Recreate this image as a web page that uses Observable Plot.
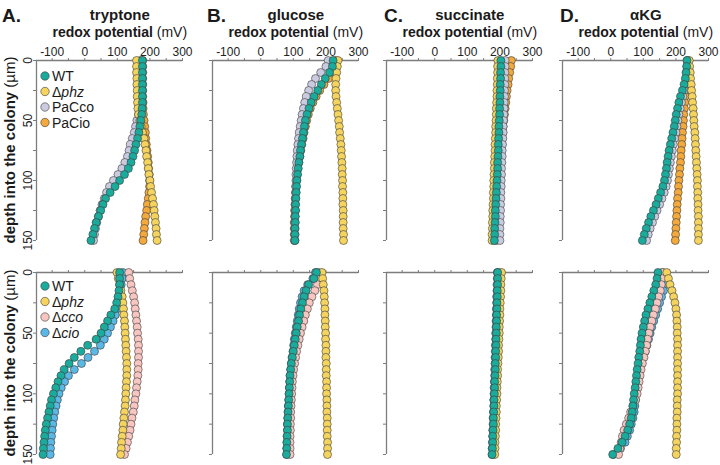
<!DOCTYPE html>
<html><head><meta charset="utf-8">
<script src="https://cdn.jsdelivr.net/npm/d3@7"></script>
<script src="https://cdn.jsdelivr.net/npm/@observablehq/plot@0.6"></script>
<style>
body{margin:0;background:#fff;font-family:"Liberation Sans",Arial,Helvetica,sans-serif;}
#wrap{position:relative;width:720px;height:465px;overflow:hidden;background:#fff;}
.pn{position:absolute;}
#ov{position:absolute;left:0;top:0;pointer-events:none;}
</style></head><body><div id="wrap"></div>
<script>
// ---- data ----
const depths = [0,5,10,15,20,25,30,35,40,45,50,55,60,65,70,75,80,85,90,95,100,105,110,115,120,125,130,135,140,145,150];
const media = ["tryptone","glucose","succinate","αKG"];
const panelLetters = ["A.","B.","C.","D."];
const strainsTop = ["WT","Δphz","PaCco","PaCio"];
const strainsBottom = ["WT","Δphz","Δcco","Δcio"];
const xTicks = [-100,-50,0,50,100,150,200,250,300];
const yTicks = [0,25,50,75,100,125,150];

// top row (WT, Δphz, PaCco, PaCio)
const tryptoneTopWT    = [177,177,177,177,177,177,177,177,176,175,172,169,166,162,157,153,148,142,134,122,107,93,78,64,56,49,42,35,30,25,19];
const tryptoneTopPhz   = [159,159,159,160,160,161,161,162,163,165,169,173,177,182,185,188,190,193,195,197,200,202,205,208,211,213,215,217,219,220,222];
const tryptoneTopPaCco = [170,170,171,171,171,171,170,170,168,165,160,156,152,146,140,136,131,123,114,102,88,76,67,60,53,47,42,37,33,30,27];
const tryptoneTopPaCio = [178,178,178,178,178,178,178,179,179,180,182,184,186,187,189,191,193,195,196,198,199,199,197,195,192,190,187,185,183,181,179];

const glucoseTopWT    = [222,220,211,198,186,175,164,155,148,142,137,134,131,128,125,122,120,117,115,113,111,110,109,108,107,107,106,106,105,105,105];
const glucoseTopPhz   = [237,235,233,231,230,230,231,233,235,237,239,241,242,244,246,247,248,249,250,250,251,251,252,252,252,253,253,253,253,254,254];
const glucoseTopPaCco = [207,200,184,168,156,147,140,135,131,127,124,121,118,116,114,112,111,110,109,108,108,107,107,106,106,106,105,105,105,105,105];
const glucoseTopPaCio = [230,228,222,208,194,181,170,160,152,146,141,137,133,130,126,123,120,117,114,112,110,108,107,106,105,104,104,103,103,103,103];

const succinateTopWT    = [203,203,202,202,201,201,200,200,199,199,198,197,197,196,195,195,194,193,193,192,191,190,189,188,187,186,186,185,184,184,183];
const succinateTopPhz   = [194,193,193,192,192,191,191,190,189,189,188,187,187,186,185,185,184,183,183,182,181,181,180,180,179,178,178,177,177,176,176];
const succinateTopPaCco = [216,216,215,215,215,214,214,213,213,212,211,210,210,209,208,207,207,206,205,205,204,204,203,203,202,202,201,201,200,200,200];
const succinateTopPaCio = [235,233,230,227,225,222,220,218,216,214,212,210,209,207,206,204,203,202,200,199,198,197,196,195,194,193,192,191,190,190,189];

const akgTopWT    = [234,233,231,229,225,220,214,209,205,201,198,195,191,187,183,179,176,173,171,168,165,160,153,146,139,131,123,116,109,103,97];
const akgTopPhz   = [241,242,244,245,247,248,250,251,253,254,255,256,258,259,260,261,262,263,264,265,266,266,267,267,268,268,269,269,269,269,269];
const akgTopPaCco = [236,235,234,232,229,225,221,217,213,209,206,203,200,196,192,189,186,183,180,177,174,170,164,157,150,142,135,128,121,115,110];
const akgTopPaCio = [235,234,233,232,231,230,228,227,226,224,223,222,220,219,218,216,215,214,212,211,209,208,207,205,204,203,202,201,200,199,198];

// bottom row (WT, Δphz, Δcco, Δcio)
const tryptoneBotWT  = [107,107,107,105,102,98,92,80,70,60,50,35,9,-12,-32,-48,-63,-73,-82,-89,-96,-102,-106,-110,-114,-118,-121,-123,-125,-127,-128];
const tryptoneBotPhz = [99,103,107,111,115,117,119,120,122,123,124,125,126,127,128,129,129,129,128,127,126,125,124,122,120,118,117,115,113,112,110];
const tryptoneBotCco = [135,138,142,146,150,153,155,157,159,161,162,164,165,165,165,164,164,163,161,159,157,154,152,149,145,142,139,135,131,127,122];
const tryptoneBotCio = [117,115,112,109,105,102,99,94,87,79,70,60,48,30,10,-10,-32,-50,-62,-72,-79,-84,-88,-92,-95,-98,-100,-102,-104,-105,-106];

const glucoseBotWT  = [171,163,147,139,133,128,123,119,116,112,109,106,103,100,97,94,92,90,89,88,87,86,85,84,83,82,82,81,80,80,79];
const glucoseBotPhz = [188,190,192,194,195,196,197,197,198,198,199,199,200,200,200,201,201,201,202,202,202,203,203,203,204,204,204,204,205,205,205];
const glucoseBotCco = [178,176,174,166,157,149,143,137,132,127,122,118,114,110,107,104,101,99,97,96,95,94,93,92,92,91,91,90,90,90,90];
const glucoseBotCio = [168,160,144,133,127,122,118,115,112,109,106,103,101,99,96,94,92,90,89,88,87,86,85,84,83,82,82,81,81,80,80];

const succinateBotWT  = [193,193,193,192,192,191,191,190,190,189,189,188,188,187,187,186,186,185,184,184,183,182,182,181,180,180,179,178,178,177,176];
const succinateBotPhz = [205,204,203,203,202,201,200,200,199,198,198,197,196,196,195,194,193,193,192,191,191,190,189,189,188,187,187,186,185,185,184];
const succinateBotCco = [196,196,195,195,194,194,193,193,192,192,191,190,190,189,189,188,188,187,186,186,185,185,184,183,183,182,182,181,180,180,179];
const succinateBotCio = [192,192,191,191,190,190,189,189,188,188,187,187,186,186,185,185,184,184,183,182,182,181,181,180,179,179,178,178,177,176,176];

const akgBotWT  = [145,142,138,132,126,120,114,108,104,100,96,93,91,89,86,84,81,79,77,75,72,70,68,66,63,58,52,44,35,22,6];
const akgBotPhz = [172,177,182,188,193,197,200,202,203,204,204,205,205,205,205,205,205,205,205,205,205,204,204,204,203,203,203,202,202,201,201];
const akgBotCco = [158,157,155,152,147,142,137,131,126,121,117,113,110,106,102,97,93,90,87,84,81,76,68,61,55,48,41,36,32,28,24];
const akgBotCio = [160,168,168,162,156,150,144,138,132,126,121,116,111,106,100,95,90,87,84,81,78,76,74,72,68,63,58,51,44,30,8];

const colorOf = {"WT":"#1aab9c","Δphz":"#f4d35e","PaCco":"#cacbe0","PaCio":"#f3a93b","Δcco":"#f8c6c1","Δcio":"#5bb7e3"};

const panelSeries = [
  [[tryptoneTopWT,tryptoneTopPhz,tryptoneTopPaCco,tryptoneTopPaCio],
   [glucoseTopWT,glucoseTopPhz,glucoseTopPaCco,glucoseTopPaCio],
   [succinateTopWT,succinateTopPhz,succinateTopPaCco,succinateTopPaCio],
   [akgTopWT,akgTopPhz,akgTopPaCco,akgTopPaCio]],
  [[tryptoneBotWT,tryptoneBotPhz,tryptoneBotCco,tryptoneBotCio],
   [glucoseBotWT,glucoseBotPhz,glucoseBotCco,glucoseBotCio],
   [succinateBotWT,succinateBotPhz,succinateBotCco,succinateBotCio],
   [akgBotWT,akgBotPhz,akgBotCco,akgBotCio]]
];

// ---- layout ----
const FONT = '"Liberation Sans",Arial,Helvetica,sans-serif';
const xDomain = [-148, 300];
const plotW = 146;
const colLeft = [36, 212, 386, 562];
const rowTop = [60, 272];
const rowH = [180, 182];
const mL = 32, mT = 24, mR = 12, mB = 8;
const axisColor = "#7d7d7d";
const wrap = document.getElementById("wrap");

function makePanel(row, col) {
  const strains = row === 0 ? strainsTop : strainsBottom;
  const series = panelSeries[row][col];
  const marks = [
    Plot.ruleY([0], {stroke: axisColor, strokeWidth: 1.3}),
    Plot.ruleX([xDomain[0]], {stroke: axisColor, strokeWidth: 1.3}),
    Plot.axisX({anchor: "top", ticks: xTicks, tickSize: 3, tickPadding: 2, stroke: axisColor, fill: "#222", label: null,
      tickFormat: row === 0 ? (d => (d % 100 === 0 ? String(d) : "")) : (() => "")}),
    Plot.axisY({anchor: "left", ticks: yTicks, tickSize: 3, tickPadding: 2, tickRotate: -90, stroke: axisColor, fill: "#222", label: null,
      tickFormat: col === 0 ? (d => (d % 50 === 0 ? String(d) : "")) : (() => "")})
  ];
  for (const i of [3, 2, 1, 0]) {
    const data = depths.map((d, j) => ({depth: d, mv: series[i][j], strain: strains[i]}));
    marks.push(Plot.line(data, {x: "mv", y: "depth", stroke: "#333", strokeWidth: 0.6}));
    marks.push(Plot.dot(data, {x: "mv", y: "depth", r: 4, fill: colorOf[strains[i]], fillOpacity: 1, stroke: "#3a3a3a", strokeWidth: 0.6}));
  }
  const svg = Plot.plot({
    width: mL + plotW + mR, height: mT + rowH[row] + mB,
    marginLeft: mL, marginRight: mR, marginTop: mT, marginBottom: mB,
    x: {domain: xDomain},
    y: {domain: [0, 150], reverse: true},
    style: {background: "transparent", fontFamily: FONT, fontSize: "12px", color: "#222", overflow: "visible"},
    marks
  });
  const div = document.createElement("div");
  div.className = "pn";
  div.style.left = (colLeft[col] - mL) + "px";
  div.style.top = (rowTop[row] - mT) + "px";
  div.style.width = (mL + plotW + mR) + "px";
  div.appendChild(svg);
  wrap.appendChild(div);
}
for (let r = 0; r < 2; r++) for (let c = 0; c < 4; c++) makePanel(r, c);

// ---- text overlay: titles, axis titles, legends ----
const ov = d3.select(wrap).append("svg").attr("id", "ov").attr("width", 720).attr("height", 465)
  .style("font-family", FONT);
const letterX = [2, 207, 384, 560];
const pxPerMv = plotW / (xDomain[1] - xDomain[0]);
media.forEach((m, c) => {
  const cx = colLeft[c] + (100 - xDomain[0]) * pxPerMv + 3;
  ov.append("text").attr("x", letterX[c]).attr("y", 22).attr("font-size", 19).attr("font-weight", "bold").attr("fill", "#1a1a1a").text(panelLetters[c]);
  ov.append("text").attr("x", cx).attr("y", 20).attr("text-anchor", "middle").attr("font-size", 15).attr("font-weight", "bold").attr("fill", "#1a1a1a").text(m);
  const t = ov.append("text").attr("x", cx).attr("y", 37).attr("text-anchor", "middle").attr("font-size", 14).attr("fill", "#1a1a1a");
  t.append("tspan").attr("font-weight", "bold").text("redox potential ");
  t.append("tspan").text("(mV)");
});
[150, 363].forEach(cy => {
  const t = ov.append("text").attr("transform", `translate(15,${cy}) rotate(-90)`).attr("text-anchor", "middle").attr("font-size", 15).attr("fill", "#1a1a1a");
  t.append("tspan").attr("font-weight", "bold").text("depth into the colony ");
  t.append("tspan").text("(µm)");
});
function legend(strains, y0) {
  strains.forEach((s, i) => {
    const y = y0 + i * 15.5;
    ov.append("circle").attr("cx", 45).attr("cy", y).attr("r", 4.2).attr("fill", colorOf[s]).attr("stroke", "#3a3a3a").attr("stroke-width", 0.6);
    const t = ov.append("text").attr("x", 52).attr("y", y + 5).attr("font-size", 14).attr("fill", "#1a1a1a");
    if (s.startsWith("Δ")) {
      t.append("tspan").text("Δ");
      t.append("tspan").attr("font-style", "italic").text(s.slice(1));
    } else t.text(s);
  });
}
legend(strainsTop, 76);
legend(strainsBottom, 286);
</script></body></html>
